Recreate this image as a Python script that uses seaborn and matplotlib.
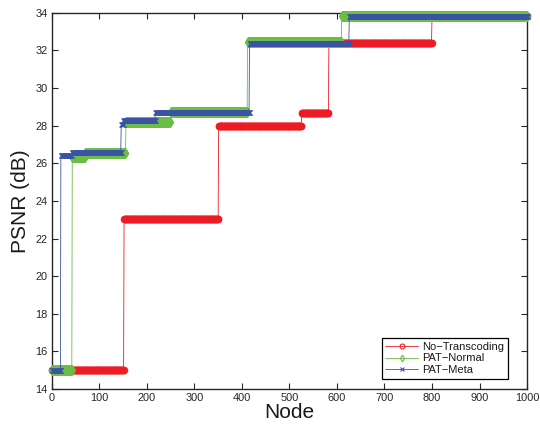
import numpy as np
import pandas as pd
import matplotlib
matplotlib.use("Agg")
import matplotlib.pyplot as plt
import seaborn as sns

# ---- data ----
nodes = np.arange(0, 1001)

no_trans_breaks = [0, 152, 351, 526, 583, 800]
no_trans_levels = [15.0, 23.05, 28.0, 28.7, 32.4, 33.85]

pat_normal_breaks = [0, 43, 70, 156, 250, 412, 610]
pat_normal_levels = [15.0, 26.35, 26.57, 28.2, 28.75, 32.45, 33.85]

pat_meta_breaks = [0, 19, 42, 146, 150, 218, 416, 626]
pat_meta_levels = [15.0, 26.45, 26.6, 28.08, 28.3, 28.72, 32.42, 33.85]

series_names = ["No\u2212Transcoding", "PAT\u2212Normal", "PAT\u2212Meta"]
x_ticks = list(range(0, 1001, 100))
y_ticks = list(range(14, 35, 2))


def steps(breaks, levels):
    idx = np.searchsorted(breaks, nodes, side="right") - 1
    return np.asarray(levels)[idx]


df = pd.concat([
    pd.DataFrame({"Node": nodes, "PSNR": steps(no_trans_breaks, no_trans_levels), "s": series_names[0]}),
    pd.DataFrame({"Node": nodes, "PSNR": steps(pat_normal_breaks, pat_normal_levels), "s": series_names[1]}),
    pd.DataFrame({"Node": nodes, "PSNR": steps(pat_meta_breaks, pat_meta_levels), "s": series_names[2]}),
])

sns.set_style("ticks")
plt.rcParams["font.family"] = ["Liberation Sans", "DejaVu Sans"]

fig = plt.figure(figsize=(5.4, 4.29), dpi=100)
ax = fig.add_axes([0.096, 0.093, 0.88, 0.877])

colors = ["#ED1C24", "#6ABD45", "#3A53A4"]
markers = ["o", "d", "x"]
msizes = [4.6, 5.4, 3.6]
for name, c, m, ms in zip(series_names, colors, markers, msizes):
    sub = df[df["s"] == name]
    sns.lineplot(data=sub, x="Node", y="PSNR", ax=ax, color=c, marker=m,
                 markersize=ms, markerfacecolor="none", markeredgecolor=c,
                 markeredgewidth=0.8, linewidth=0.6, label=name,
                 estimator=None, sort=False, clip_on=False)

ax.set_xlim(0, 1000)
ax.set_ylim(14, 34)
ax.set_xticks(x_ticks)
ax.set_yticks(y_ticks)
ax.tick_params(direction="in", top=True, right=True, length=4, width=0.8,
               labelsize=7.9, labelcolor="#262626", pad=3)
for sp in ax.spines.values():
    sp.set_linewidth(1.0)
    sp.set_visible(True)
    sp.set_zorder(0.5)
ax.set_xlabel("Node", fontsize=15, labelpad=0, color="#1a1a1a")
ax.set_ylabel("PSNR (dB)", fontsize=15, labelpad=4, color="#1a1a1a")

leg = ax.legend(loc="lower right", bbox_to_anchor=(508 / 540, 1 - 379 / 429),
                bbox_transform=fig.transFigure,
                fontsize=8.0, frameon=True, fancybox=False,
                edgecolor="black", framealpha=1, borderpad=0.35,
                labelspacing=0.15, handlelength=2.9, handletextpad=0.4,
                borderaxespad=0)
leg.get_frame().set_linewidth(0.9)
for h in leg.legend_handles:
    h.set_markersize(3.5)
for t in leg.get_texts():
    t.set_color("#1a1a1a")

fig.savefig("out.png", dpi=100)
